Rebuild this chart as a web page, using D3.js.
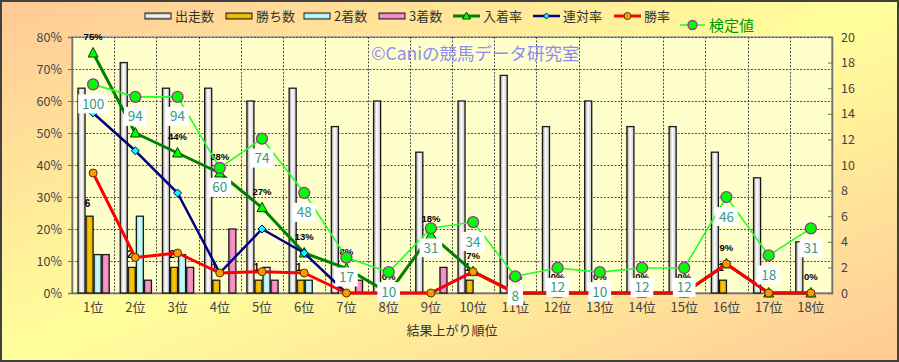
<!DOCTYPE html>
<html><head><meta charset="utf-8">
<script src="https://cdn.jsdelivr.net/npm/d3@7"></script>
<style>body{margin:0;background:#fff;} svg{display:block;font-family:'Noto Sans CJK JP','Noto Sans',sans-serif;}</style>
</head><body><svg id="c" width="899" height="362"></svg>
<script>
const categories = ["1位","2位","3位","4位","5位","6位","7位","8位","9位","10位","11位","12位","13位","14位","15位","16位","17位","18位"];
const starts  = [16,18,16,16,15,16,13,15,11,15,17,13,15,13,13,11,9,4];
const wins    = [6,2,2,1,1,1,0,0,0,1,0,0,0,0,0,1,0,0];
const seconds = [3,6,3,0,2,1,0,0,0,0,0,0,0,0,0,0,0,0];
const thirds  = [3,1,2,5,1,0,1,0,2,0,0,0,0,0,0,0,0,0];
const placeRate    = [75,50,43.75,37.5,26.67,12.5,7.69,0,18.18,6.67,0,0,0,0,0,9.09,0,0];
const quinellaRate = [56.25,44.44,31.25,6.25,20,12.5,0,0,0,6.67,0,0,0,0,0,9.09,0,0];
const winRate      = [37.5,11.11,12.5,6.25,6.67,6.25,0,0,0,6.67,0,0,0,0,0,9.09,0,0];
const kentei       = [100,94,94,60,74,48,17,10,31,34,8,12,10,12,12,46,18,31];
const leftTicks  = [0,10,20,30,40,50,60,70,80];
const rightTicks = [0,2,4,6,8,10,12,14,16,18,20];
const barSeries = ["出走数","勝ち数","2着数","3着数"];
const lineSeries = ["入着率","連対率","勝率"];

const W = 899, H = 362;
const m = {left:72, right:67, top:37, bottom:69};
const svg = d3.select("#c");
const defs = svg.append("defs");

// background gradient
const bg = defs.append("linearGradient").attr("id","bg").attr("x1",0).attr("y1",0).attr("x2",1).attr("y2",1);
bg.append("stop").attr("offset","0%").attr("stop-color","#ffc996");
bg.append("stop").attr("offset","50%").attr("stop-color","#ffff9c");
bg.append("stop").attr("offset","100%").attr("stop-color","#ffc996");

function hGrad(id, edge, mid, edge2){
  const g = defs.append("linearGradient").attr("id",id).attr("x1",0).attr("y1",0).attr("x2",1).attr("y2",0);
  g.append("stop").attr("offset","0%").attr("stop-color",edge);
  g.append("stop").attr("offset","45%").attr("stop-color",mid);
  g.append("stop").attr("offset","100%").attr("stop-color",edge2);
}
hGrad("gStart","#9a9a9a","#ffffff","#c4c4c4");
hGrad("gWin","#c89400","#ffcc00","#d8a800");
hGrad("gSecond","#8fd8dc","#ccffff","#a8e8ec");
hGrad("gThird","#d070a8","#ff99cc","#e080b8");
function vGrad(id, edge, mid){
  const g = defs.append("linearGradient").attr("id",id).attr("x1",0).attr("y1",0).attr("x2",0).attr("y2",1);
  g.append("stop").attr("offset","0%").attr("stop-color",edge);
  g.append("stop").attr("offset","50%").attr("stop-color",mid);
  g.append("stop").attr("offset","100%").attr("stop-color",edge);
}
vGrad("lStart","#9a9a9a","#ffffff");
vGrad("lWin","#c89400","#ffcc00");
vGrad("lSecond","#8fd8dc","#ccffff");
vGrad("lThird","#d070a8","#ff99cc");
const barFills = ["url(#gStart)","url(#gWin)","url(#gSecond)","url(#gThird)"];
const legFills = ["url(#lStart)","url(#lWin)","url(#lSecond)","url(#lThird)"];

svg.append("rect").attr("x",1).attr("y",1).attr("width",W-2).attr("height",H-2)
  .attr("fill","url(#bg)").attr("stroke","#404040").attr("stroke-width",2);

const x = d3.scaleBand().domain(categories).range([m.left, W-m.right]).padding(0);
const xi = d3.scaleBand().domain(barSeries).range([5.5, x.bandwidth()-4.5]).padding(0);
const yL = d3.scaleLinear().domain([0,80]).range([H-m.bottom, m.top]);
const yR = d3.scaleLinear().domain([0,20]).range([H-m.bottom, m.top]);
const yK = d3.scaleLinear().domain([0,122.7]).range([H-m.bottom, m.top]);

// plot area
svg.append("rect").attr("x",m.left).attr("y",m.top).attr("width",W-m.left-m.right).attr("height",H-m.top-m.bottom)
  .attr("fill","#ffffcc").attr("stroke","#9a9a9a").attr("stroke-width",1.5);

// gridlines
svg.append("g").selectAll("line").data(leftTicks.filter(d=>d>0)).join("line")
  .attr("x1",m.left).attr("x2",W-m.right).attr("y1",d=>yL(d)+0.5).attr("y2",d=>yL(d)+0.5)
  .attr("stroke","#505050").attr("stroke-dasharray","2,1.5").attr("stroke-width",1);
svg.append("g").selectAll("line").data(categories.slice(1)).join("line")
  .attr("x1",d=>Math.round(x(d))+0.5).attr("x2",d=>Math.round(x(d))+0.5).attr("y1",m.top).attr("y2",H-m.bottom)
  .attr("stroke","#505050").attr("stroke-dasharray","2,1.5").attr("stroke-width",1);

// axes
const axL = svg.append("g").attr("transform",`translate(${m.left},0)`)
  .call(d3.axisLeft(yL).tickValues(leftTicks).tickFormat(d=>d+"%").tickSize(4).tickPadding(6));
const axR = svg.append("g").attr("transform",`translate(${W-m.right},0)`)
  .call(d3.axisRight(yR).tickValues(rightTicks).tickSize(-4).tickPadding(9));
const axB = svg.append("g").attr("transform",`translate(0,${H-m.bottom})`)
  .call(d3.axisBottom(x).tickSize(0).tickPadding(10));
[axL,axR,axB].forEach(a=>{
  a.select(".domain").attr("stroke","#707070").attr("stroke-width",1.5);
  a.selectAll(".tick line").attr("stroke","#707070");
  a.selectAll("text").attr("fill","#444").attr("font-size","12.5px").attr("font-family","'Noto Sans CJK JP',sans-serif");
});
axB.selectAll("text").attr("font-size","13px");

// x title
svg.append("text").attr("x",(m.left+W-m.right)/2).attr("y",335).attr("text-anchor","middle")
  .attr("font-size","13px").attr("fill","#333").text("結果上がり順位");

// bars
const barData = [starts,wins,seconds,thirds];
barData.forEach((arr,si)=>{
  svg.append("g").selectAll("rect").data(arr).join("rect")
    .attr("x",(d,i)=>x(categories[i])+xi(barSeries[si])+0.5)
    .attr("width",xi.bandwidth()-1)
    .attr("y",d=>yR(d))
    .attr("height",d=>yR(0)-yR(d))
    .attr("fill",barFills[si]).attr("stroke","#1a1a1a").attr("stroke-width",1.3)
    .attr("display",d=>d>0?null:"none");
});

// win count labels
svg.append("g").selectAll("text").data(wins).join("text")
  .attr("x",(d,i)=>x(categories[i])+xi("勝ち数")+xi.bandwidth()/2-2)
  .attr("y",d=>yR(d)-9)
  .attr("text-anchor","middle").attr("font-size","10px").attr("font-weight","bold").attr("fill","#000")
  .attr("font-family","'Liberation Sans',sans-serif")
  .text(d=>d>0?d:"");

// watermark
svg.append("text").attr("x",371).attr("y",60).attr("font-size","17.5px").attr("fill","#8e8ef2")
  .text("©Caniの競馬データ研究室");

const cx = i => x(categories[i]) + x.bandwidth()/2;
const triPath = "M0,-5.5L5,4L-5,4Z";
const diaPath = "M0,-4L4,0L0,4L-4,0Z";

function drawLine(vals, scale, color, width){
  svg.append("path").datum(vals)
    .attr("d", d3.line().x((d,i)=>cx(i)).y(d=>scale(d)))
    .attr("fill","none").attr("stroke",color).attr("stroke-width",width).attr("stroke-linejoin","round");
}

// 入着率
drawLine(placeRate, yL, "#008000", 3);
svg.append("g").selectAll("path").data(placeRate).join("path")
  .attr("transform",(d,i)=>`translate(${cx(i)},${yL(d)})`).attr("d",triPath)
  .attr("fill","#00ff00").attr("stroke","#004000").attr("stroke-width",1);
svg.append("g").selectAll("text").data(placeRate).join("text")
  .attr("x",(d,i)=>cx(i)).attr("y",d=>yL(d)-13)
  .attr("text-anchor","middle").attr("font-size","9.5px").attr("font-weight","bold").attr("fill","#000")
  .attr("font-family","'Liberation Sans',sans-serif")
  .text(d=>Math.round(d)+"%");

// 連対率
drawLine(quinellaRate, yL, "#000080", 2.5);
svg.append("g").selectAll("path").data(quinellaRate).join("path")
  .attr("transform",(d,i)=>`translate(${cx(i)},${yL(d)})`).attr("d",diaPath)
  .attr("fill","#00ffff").attr("stroke","#000080").attr("stroke-width",1);

// 勝率
drawLine(winRate, yL, "#ff0000", 3);
svg.append("g").selectAll("circle").data(winRate).join("circle")
  .attr("cx",(d,i)=>cx(i)).attr("cy",d=>yL(d)).attr("r",4)
  .attr("fill","#ff9900").attr("stroke","#553300").attr("stroke-width",1);

// 検定値
drawLine(kentei, yK, "#22ff22", 1.6);
svg.append("g").selectAll("circle").data(kentei).join("circle")
  .attr("cx",(d,i)=>cx(i)).attr("cy",d=>yK(d)).attr("r",5.5)
  .attr("fill","#00ff00").attr("stroke","#993399").attr("stroke-width",1.3);
const kl = svg.append("g").selectAll("g").data(kentei).join("g")
  .attr("transform",(d,i)=>`translate(${cx(i)},${yK(d)+19.5})`);
kl.append("rect").attr("x",d=>-(String(d).length*7.3+8)/2).attr("y",-9.5)
  .attr("width",d=>String(d).length*7.3+8).attr("height",19).attr("fill","#ffffff");
kl.append("text").attr("text-anchor","middle").attr("y",5).attr("font-size","13.5px")
  .attr("fill","#3a9a7c").text(d=>d);

// legend
const leg = svg.append("g");
const legBarX = [145,226,304,379];
barSeries.forEach((s,i)=>{
  leg.append("rect").attr("x",legBarX[i]).attr("y",13).attr("width",26).attr("height",6)
    .attr("fill",legFills[i]).attr("stroke","#1a1a1a").attr("stroke-width",1);
  leg.append("text").attr("x",legBarX[i]+30).attr("y",21).attr("font-size","13px").attr("fill","#333").text(s);
});
const legLineX = [453,533,614];
const legColors = ["#008000","#000080","#ff0000"];
lineSeries.forEach((s,i)=>{
  const x0 = legLineX[i];
  leg.append("line").attr("x1",x0).attr("x2",x0+27).attr("y1",16).attr("y2",16)
    .attr("stroke",legColors[i]).attr("stroke-width",i===1?2.5:3);
  if(i===0) leg.append("path").attr("transform",`translate(${x0+13.5},16)`).attr("d","M0,-4L4,3L-4,3Z").attr("fill","#00ff00").attr("stroke","#004000");
  if(i===1) leg.append("path").attr("transform",`translate(${x0+13.5},16)`).attr("d","M0,-3L3,0L0,3L-3,0Z").attr("fill","#00ffff").attr("stroke","#000080");
  if(i===2) leg.append("circle").attr("cx",x0+13.5).attr("cy",16).attr("r",3.5).attr("fill","#ff9900").attr("stroke","#553300");
  leg.append("text").attr("x",x0+30).attr("y",21).attr("font-size","13px").attr("fill","#333").text(s);
});
leg.append("line").attr("x1",680).attr("x2",705).attr("y1",25).attr("y2",25).attr("stroke","#22ff22").attr("stroke-width",1.6);
leg.append("circle").attr("cx",692.5).attr("cy",25).attr("r",4.5).attr("fill","#00ff00").attr("stroke","#993399").attr("stroke-width",1.3);
leg.append("text").attr("x",709).attr("y",31).attr("font-size","15px").attr("fill","#009900").text("検定値");
</script></body></html>
